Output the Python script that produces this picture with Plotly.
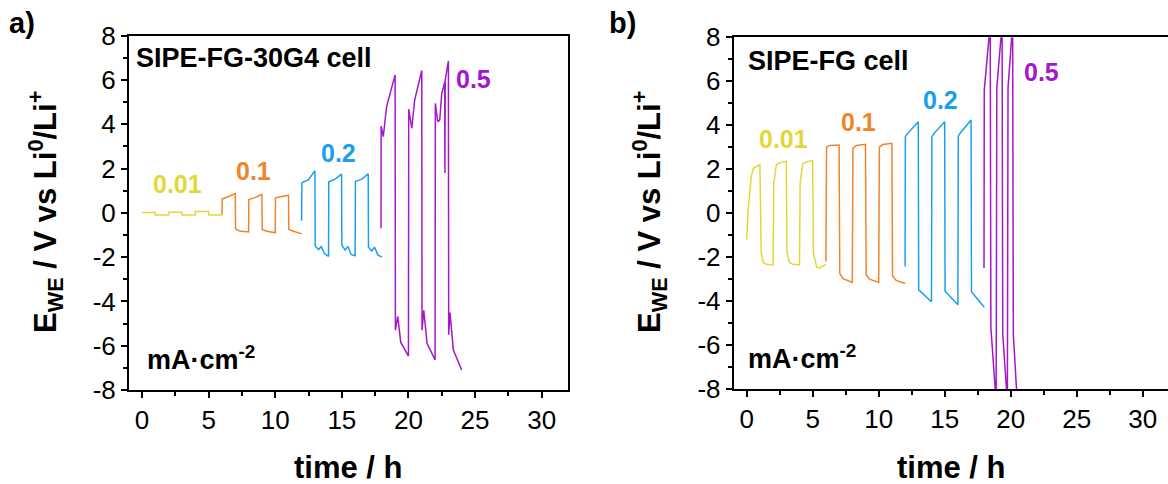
import plotly.graph_objects as go

W, H = 1168, 484

# ---------------- data (time / h, E_WE / V) ----------------
# panel a : SIPE-FG-30G4 cell
a_y_t = [0, 1, 1, 2, 2, 3, 3, 4, 4, 5, 5, 6]
a_y_v = [0.02, 0.02, -0.1, -0.1, 0.03, 0.03, -0.1, -0.1, 0.06, 0.06, -0.1, -0.1]

a_o_t = [6.0, 6.02, 6.5, 7.0, 7.02, 7.3, 8.0, 8.02, 8.5, 9.0, 9.02, 9.3, 10.0, 10.02, 10.5, 11.0, 11.02, 11.3, 12.0]
a_o_v = [-0.08, 0.62, 0.74, 0.87, -0.72, -0.82, -0.86, 0.6, 0.7, 0.83, -0.75, -0.82, -0.9, 0.68, 0.74, 0.8, -0.75, -0.82, -0.95]

a_b_t = [11.98, 12.0, 12.5, 12.98, 13.0, 13.25, 13.45, 13.7, 14.0, 14.02, 14.5, 14.98, 15.0, 15.25, 15.45, 15.7, 16.0,
         16.02, 16.5, 16.98, 17.0, 17.25, 17.45, 17.7, 18.0]
a_b_v = [-0.36, 1.36, 1.5, 1.9, -1.5, -1.66, -1.52, -1.85, -1.96, 1.4, 1.52, 1.75, -1.46, -1.68, -1.52, -1.88, -1.94,
         1.42, 1.52, 1.76, -1.55, -1.72, -1.55, -1.9, -2.0]

a_p_t = [17.94, 17.95, 18.11, 18.36, 19.0, 19.02, 19.2, 19.33, 19.42, 20.0, 20.02, 20.25, 20.47, 21.0, 21.02, 21.15,
         21.3, 21.4, 22.0, 22.02, 22.2, 22.35, 22.5, 22.72, 22.74, 22.76, 23.0, 23.02, 23.12, 23.25, 23.37, 24.0]
a_p_v = [-0.7, 3.92, 3.44, 4.8, 6.23, -5.3, -4.68, -5.4, -5.84, -6.47, 4.68, 3.82, 5.1, 6.43, -5.3, -4.4,
         -5.3, -5.9, -6.64, 4.95, 4.12, 4.2, 5.4, 5.9, 1.8, 6.0, 6.86, -5.5, -4.5, -5.3, -6.2, -7.1]

# panel b : SIPE-FG cell
b_y_t = [0.0, 0.1, 0.35, 0.5, 1.0, 1.1, 1.25, 1.5, 2.0, 2.05, 2.25, 2.5, 3.0, 3.05, 3.25, 3.5, 4.0, 4.05, 4.25, 4.5,
         5.0, 5.05, 5.3, 5.5, 6.0]
b_y_v = [-1.2, 0.1, 1.66, 2.04, 2.2, -1.8, -2.25, -2.33, -2.36, 1.36, 2.2, 2.3, 2.35, -1.8, -2.25, -2.33, -2.36, 1.38,
         2.25, 2.32, 2.4, -1.8, -2.45, -2.5, -2.33]

b_o_t = [6.0, 6.05, 6.3, 7.0, 7.05, 7.3, 8.0, 8.05, 8.3, 9.0, 9.05, 9.3, 10.0, 10.05, 10.3, 11.0, 11.05, 11.3, 12.0]
b_o_v = [-2.2, 3.0, 3.08, 3.1, -2.74, -2.98, -3.15, 2.95, 3.08, 3.13, -2.8, -3.0, -3.15, 3.0, 3.12, 3.18, -2.85, -3.05, -3.2]

b_b_t = [12.0, 12.02, 12.2, 13.0, 13.03, 14.0, 14.03, 14.2, 15.0, 15.03, 16.0, 16.03, 16.2, 17.0, 17.03, 18.0]
b_b_v = [-2.43, 3.48, 3.63, 4.16, -3.49, -4.03, 3.48, 3.63, 4.16, -3.55, -4.17, 3.5, 3.66, 4.24, -3.58, -4.28]

b_p_t = [17.98, 18.0, 18.45, 18.5, 18.9, 18.95, 19.35, 19.4, 19.75, 19.8, 20.15, 20.2, 20.5]
b_p_v = [-2.5, 5.6, 8.6, -5.2, -8.6, 5.7, 8.6, -5.5, -8.6, 5.7, 8.6, -5.5, -8.6]

current_labels = ["0.01", "0.1", "0.2", "0.5"]
x_ticks = [0, 5, 10, 15, 20, 25, 30]
x_ticktext = ["0", "5", "10", "15", "20", "25", "30"]
y_ticks = [-8, -6, -4, -2, 0, 2, 4, 6, 8]
y_ticktext = ["-8", "-6", "-4", "-2", "0", "2", "4", "6", "8"]

# ---------------- style ----------------
C_Y = "#E3D738"
C_O = "#F0842C"
C_B = "#1A9FF0"
C_P = "#A516CC"
FONT = "Liberation Sans, Arial, sans-serif"
LW = 1.5


def px(x):
    return x / W


def py(y):
    return 1 - y / H


fig = go.Figure()
for t, v, c, ax in [(a_y_t, a_y_v, C_Y, 1), (a_o_t, a_o_v, C_O, 1), (a_b_t, a_b_v, C_B, 1), (a_p_t, a_p_v, C_P, 1),
                    (b_y_t, b_y_v, C_Y, 2), (b_o_t, b_o_v, C_O, 2), (b_b_t, b_b_v, C_B, 2), (b_p_t, b_p_v, C_P, 2)]:
    fig.add_trace(go.Scatter(x=t, y=v, mode="lines", line=dict(color=c, width=LW),
                             xaxis="x" if ax == 1 else "x2", yaxis="y" if ax == 1 else "y2",
                             showlegend=False, hoverinfo="skip"))

tickfont = dict(family=FONT, size=26, color="black")
xcommon = dict(tickvals=x_ticks, ticktext=x_ticktext, ticks="outside", ticklen=6, tickwidth=1.5, tickcolor="black",
               showline=True, linecolor="black", linewidth=1.5, showgrid=False, zeroline=False, automargin=False,
               tickfont=tickfont, minor=dict(dtick=2.5, ticks="outside", ticklen=4, tickwidth=1.5, tickcolor="black"))
ycommon = dict(tickvals=y_ticks, ticktext=y_ticktext, ticks="outside", ticklen=6, tickwidth=1.5, tickcolor="black",
               showline=True, linecolor="black", linewidth=1.5, showgrid=False, zeroline=False, automargin=False,
               tickfont=tickfont, range=[-8, 8],
               minor=dict(dtick=1, ticks="outside", ticklen=4, tickwidth=1.5, tickcolor="black"))

fig.update_layout(
    template="none",
    width=W, height=H, margin=dict(l=0, r=0, t=0, b=0, pad=0),
    paper_bgcolor="white", plot_bgcolor="white",
    xaxis=dict(**xcommon, domain=[px(128.7), px(568.3)], range=[-1, 32], mirror=True, anchor="y"),
    yaxis=dict(**ycommon, domain=[py(390), py(35.7)], mirror=True, anchor="x"),
    xaxis2=dict(**xcommon, domain=[px(733.5), 1.0], range=[-1, 31.92], mirror=True, anchor="y2"),
    yaxis2=dict(**ycommon, domain=[py(389), py(37.3)], mirror=False, anchor="x2"),
)

ann = []


def text(x, y, s, size, color="black", xanchor="left", yanchor="middle", angle=0):
    ann.append(dict(x=px(x), y=py(y), xref="paper", yref="paper", text=s, showarrow=False,
                    xanchor=xanchor, yanchor=yanchor, textangle=angle,
                    font=dict(family=FONT, size=size, color=color)))


ytitle = "<b>E<sub>WE</sub> / V vs Li<sup>0</sup>/Li<sup>+</sup></b>"
# panel a
text(7, 23, "<b>a)</b>", 29)
text(45, 212, ytitle, 31, xanchor="center", angle=-90)
text(348, 467, "<b>time / h</b>", 31, xanchor="center")
text(134, 58, "<b>SIPE-FG-30G4 cell</b>", 27)
text(145, 358, "<b>mA·cm<sup>-2</sup></b>", 27)
text(151, 184, "<b>%s</b>" % current_labels[0], 25, C_Y)
text(234, 170.5, "<b>%s</b>" % current_labels[1], 25, C_O)
text(319, 152.5, "<b>%s</b>" % current_labels[2], 25, C_B)
text(454, 78.5, "<b>%s</b>" % current_labels[3], 25, C_P)
# panel b
text(607, 23, "<b>b)</b>", 29)
text(649, 212, ytitle, 31, xanchor="center", angle=-90)
text(951, 467, "<b>time / h</b>", 31, xanchor="center")
text(746, 61, "<b>SIPE-FG cell</b>", 27)
text(746, 357, "<b>mA·cm<sup>-2</sup></b>", 27)
text(757, 138.5, "<b>%s</b>" % current_labels[0], 25, C_Y)
text(839, 122, "<b>%s</b>" % current_labels[1], 25, C_O)
text(921, 100.5, "<b>%s</b>" % current_labels[2], 25, C_B)
text(1022, 72, "<b>%s</b>" % current_labels[3], 25, C_P)

fig.update_layout(annotations=ann)
fig.write_html("out.html")
